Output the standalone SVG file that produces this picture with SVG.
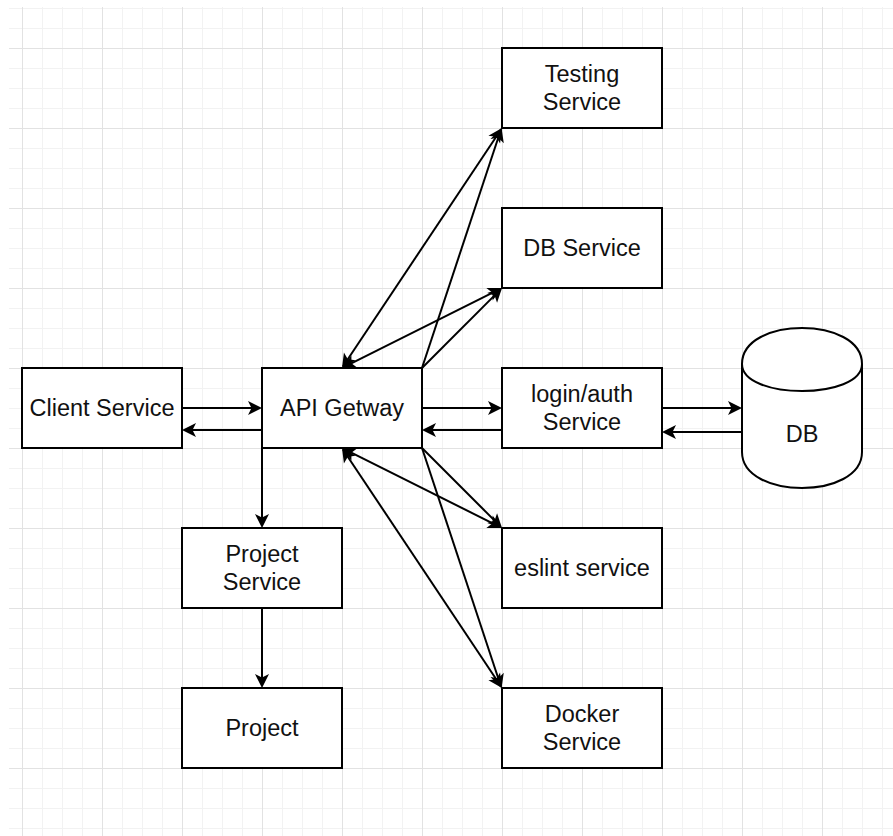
<svg xmlns="http://www.w3.org/2000/svg" width="893" height="836" viewBox="0 0 893 836">
  <style>
    .box { fill: #ffffff; stroke: #000000; stroke-width: 2; }
    .lbl { font-family: "Liberation Sans", Arial, Helvetica, sans-serif; font-size: 23.5px; fill: #111111; text-anchor: middle; }
    .edge { fill: none; stroke: #000000; stroke-width: 2; }
  </style>
  <defs>
    <!-- fine grid every 20px, bold grid every 80px -->
    <pattern id="gridMinor" width="20" height="20" patternUnits="userSpaceOnUse" x="2" y="8">
      <rect x="0" y="0" width="1" height="20" fill="#f2f2f2"/>
      <rect x="0" y="0" width="20" height="1" fill="#f2f2f2"/>
    </pattern>
    <pattern id="gridMajor" width="80" height="80" patternUnits="userSpaceOnUse" x="22" y="48">
      <rect x="0" y="0" width="1" height="80" fill="#e2e2e2"/>
      <rect x="0" y="0" width="80" height="1" fill="#e2e2e2"/>
    </pattern>
    <!-- classic notched arrowhead; tip sits 2px past the path end -->
    <marker id="arrow" viewBox="-13 -8 16 16" refX="0" refY="0" markerWidth="16" markerHeight="16" markerUnits="userSpaceOnUse" orient="auto-start-reverse">
      <path d="M2,0 L-12,-7 L-8.5,0 L-12,7 Z" fill="#000000"/>
    </marker>
  </defs>

  <rect x="0" y="0" width="893" height="836" fill="#ffffff"/>
  <rect x="9" y="7" width="884" height="829" fill="url(#gridMinor)"/>
  <rect x="9" y="7" width="884" height="829" fill="url(#gridMajor)"/>

  <g id="connectors">
    <!-- Client <-> API gateway -->
    <path class="edge" d="M182,408 H260" marker-end="url(#arrow)"/>
    <path class="edge" d="M262,430 H184" marker-end="url(#arrow)"/>
    <!-- API gateway <-> login/auth -->
    <path class="edge" d="M422,408 H500" marker-end="url(#arrow)"/>
    <path class="edge" d="M502,430 H424" marker-end="url(#arrow)"/>
    <!-- login/auth <-> DB -->
    <path class="edge" d="M662,408 H740" marker-end="url(#arrow)"/>
    <path class="edge" d="M742,432 H664" marker-end="url(#arrow)"/>
    <!-- API gateway -> Project Service -> Project -->
    <path class="edge" d="M262,448 V526" marker-end="url(#arrow)"/>
    <path class="edge" d="M262,608 V686" marker-end="url(#arrow)"/>
    <!-- API gateway <-> Testing Service -->
    <path class="edge" d="M343.1,366.3 L500.9,129.7" marker-start="url(#arrow)" marker-end="url(#arrow)"/>
    <path class="edge" d="M422,368 L500.9,129.7" marker-end="url(#arrow)"/>
    <!-- API gateway <-> DB Service -->
    <path class="edge" d="M343.8,367.1 L500.2,288.9" marker-start="url(#arrow)" marker-end="url(#arrow)"/>
    <path class="edge" d="M422,368 L500.6,289.4" marker-end="url(#arrow)"/>
    <!-- API gateway <-> eslint service -->
    <path class="edge" d="M343.8,448.9 L500.2,527.1" marker-start="url(#arrow)" marker-end="url(#arrow)"/>
    <path class="edge" d="M422,448 L500.6,526.6" marker-end="url(#arrow)"/>
    <!-- API gateway <-> Docker Service -->
    <path class="edge" d="M343.1,449.7 L500.9,686.3" marker-start="url(#arrow)" marker-end="url(#arrow)"/>
    <path class="edge" d="M422,448 L500.9,686.3" marker-end="url(#arrow)"/>
  </g>

  <g id="testing-service">
    <rect class="box" x="502" y="48" width="160" height="80"/>
    <text class="lbl" x="582" y="81.5">Testing</text>
    <text class="lbl" x="582" y="110">Service</text>
  </g>
  <g id="db-service">
    <rect class="box" x="502" y="208" width="160" height="80"/>
    <text class="lbl" x="582" y="256">DB Service</text>
  </g>
  <g id="login-auth-service">
    <rect class="box" x="502" y="368" width="160" height="80"/>
    <text class="lbl" x="582" y="401.5">login/auth</text>
    <text class="lbl" x="582" y="430">Service</text>
  </g>
  <g id="eslint-service">
    <rect class="box" x="502" y="528" width="160" height="80"/>
    <text class="lbl" x="582" y="576">eslint service</text>
  </g>
  <g id="docker-service">
    <rect class="box" x="502" y="688" width="160" height="80"/>
    <text class="lbl" x="582" y="721.5">Docker</text>
    <text class="lbl" x="582" y="750">Service</text>
  </g>
  <g id="client-service">
    <rect class="box" x="22" y="368" width="160" height="80"/>
    <text class="lbl" x="102" y="416">Client Service</text>
  </g>
  <g id="api-gateway">
    <rect class="box" x="262" y="368" width="160" height="80"/>
    <text class="lbl" x="342" y="416">API Getway</text>
  </g>
  <g id="project-service">
    <rect class="box" x="182" y="528" width="160" height="80"/>
    <text class="lbl" x="262" y="561.5">Project</text>
    <text class="lbl" x="262" y="590">Service</text>
  </g>
  <g id="project">
    <rect class="box" x="182" y="688" width="160" height="80"/>
    <text class="lbl" x="262" y="736">Project</text>
  </g>
  <g id="db">
    <path class="box" d="M742,364 C742,316 862,316 862,364 L862,452 C862,500 742,500 742,452 Z"/>
    <path class="box" fill="none" d="M742,364 C742,400 862,400 862,364"/>
    <text class="lbl" x="802" y="442">DB</text>
  </g>
</svg>
